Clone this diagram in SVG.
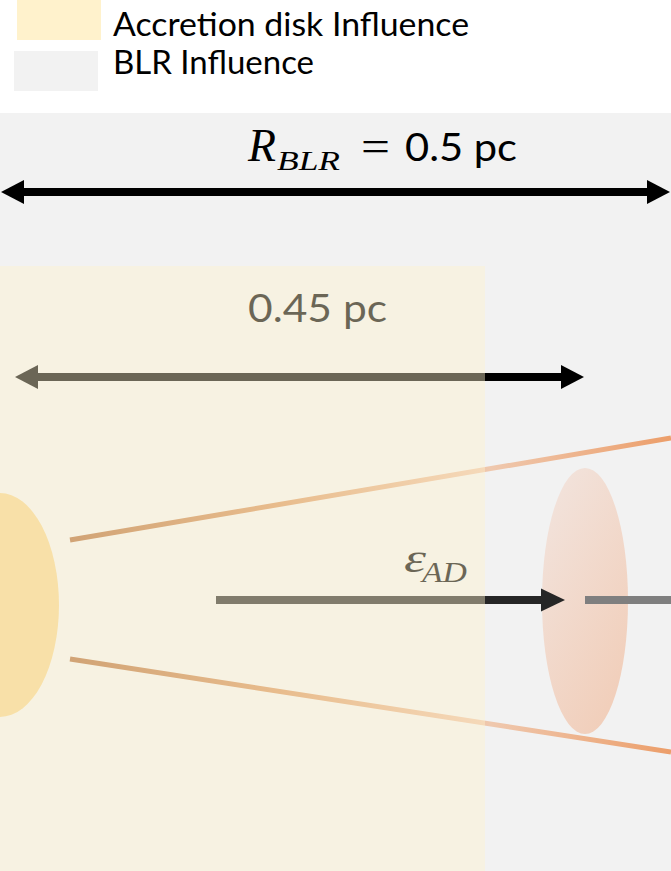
<svg xmlns="http://www.w3.org/2000/svg" width="671" height="871" viewBox="0 0 671 871">
  <style>
    .sans { font-family: Lato, "Open Sans", "Liberation Sans", sans-serif; fill: #000; }
    .math { font-family: "Liberation Serif", "DejaVu Serif", serif; font-style: italic; fill: #000; }
    .cone { fill: none; stroke-width: 5; stroke: url(#coneGrad); }
  </style>
  <defs>
    <marker id="headBlack" markerUnits="userSpaceOnUse" markerWidth="24" markerHeight="26" viewBox="0 0 24 26" refX="0" refY="13" orient="auto-start-reverse">
      <path d="M0,1 L23,13 L0,25 Z" fill="#000"/>
    </marker>
    <marker id="headDark" markerUnits="userSpaceOnUse" markerWidth="25" markerHeight="25" viewBox="0 0 25 25" refX="0" refY="12.5" orient="auto-start-reverse">
      <path d="M0,1 L24,12.5 L0,24 Z" fill="#262626"/>
    </marker>
    <linearGradient id="coneGrad" gradientUnits="userSpaceOnUse" x1="70" y1="0" x2="671" y2="0">
      <stop offset="0" stop-color="#B06A36"/>
      <stop offset="0.35" stop-color="#D8955F"/>
      <stop offset="0.7" stop-color="#EFC8AE"/>
      <stop offset="1" stop-color="#EC9E6A"/>
    </linearGradient>
    <linearGradient id="cloudGrad" x1="0.2" y1="0" x2="0.8" y2="1">
      <stop offset="0" stop-color="#F2E3DC"/>
      <stop offset="1" stop-color="#F1CDB8"/>
    </linearGradient>
  </defs>

  <rect id="page" x="0" y="0" width="671" height="871" fill="#FFFFFF"/>

  <g id="legend">
    <rect x="17" y="0" width="84" height="40" fill="#FFF2CC"/>
    <text class="sans" x="113" y="36" font-size="33" textLength="356" lengthAdjust="spacingAndGlyphs">Accretion disk Influence</text>
    <rect x="14" y="51" width="84" height="40" fill="#F2F2F2"/>
    <text class="sans" x="113" y="74" font-size="33" textLength="201" lengthAdjust="spacingAndGlyphs">BLR Influence</text>
  </g>

  <g id="blr-region">
    <rect x="0" y="113" width="671" height="758" fill="#F2F2F2"/>
  </g>

  <g id="accretion-disk">
    <ellipse cx="0" cy="605" rx="59" ry="112" fill="#F3D38E"/>
  </g>

  <g id="blr-cloud">
    <ellipse cx="585" cy="601" rx="43" ry="133" fill="url(#cloudGrad)"/>
  </g>

  <g id="connectors">
    <line class="cone" x1="70" y1="540" x2="671" y2="438"/>
    <line class="cone" x1="70" y1="659" x2="671" y2="752"/>
    <line x1="24" y1="192" x2="647" y2="192" stroke="#000" stroke-width="8" marker-start="url(#headBlack)" marker-end="url(#headBlack)"/>
    <line x1="38" y1="377" x2="561" y2="377" stroke="#000" stroke-width="8" marker-start="url(#headBlack)" marker-end="url(#headBlack)"/>
    <line x1="216" y1="600" x2="541" y2="600" stroke="#262626" stroke-width="8" marker-end="url(#headDark)"/>
    <line x1="585" y1="600" x2="671" y2="600" stroke="#7F7F7F" stroke-width="8"/>
  </g>

  <g id="labels">
    <text class="math" x="248" y="161" font-size="46" textLength="28" lengthAdjust="spacingAndGlyphs">R</text>
    <text class="math" x="277" y="170" font-size="27" textLength="63" lengthAdjust="spacingAndGlyphs">BLR</text>
    <text x="361" y="161" font-size="44" font-family="Liberation Serif, serif" textLength="29" lengthAdjust="spacingAndGlyphs">=</text>
    <text class="sans" x="405" y="161" font-size="38" textLength="112" lengthAdjust="spacingAndGlyphs">0.5 pc</text>
    <text class="sans" x="248" y="322" font-size="39" textLength="139" lengthAdjust="spacingAndGlyphs">0.45 pc</text>
    <text class="math" x="404" y="572" font-size="40" textLength="22" lengthAdjust="spacingAndGlyphs">ε</text>
    <text class="math" x="422" y="582" font-size="29" textLength="45" lengthAdjust="spacingAndGlyphs">AD</text>
  </g>

  <g id="accretion-region">
    <rect x="0" y="266" width="485" height="605" fill="#FFF2CC" fill-opacity="0.42"/>
  </g>
</svg>
